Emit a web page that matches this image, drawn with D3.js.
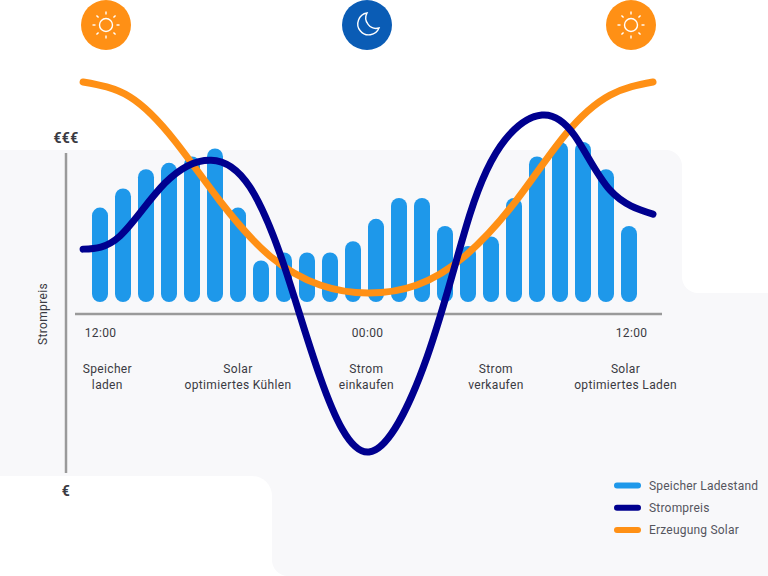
<!DOCTYPE html>
<html>
<head>
<meta charset="utf-8">
<script src="https://cdn.jsdelivr.net/npm/d3@7"></script>
<style>
	html, body { margin: 0; padding: 0; background: #fff; }
	svg { display: block; }
	text { font-family: Roboto, sans-serif; font-size: 12px; fill: #3a3a42; letter-spacing: 0.35px; }
</style>
</head>
<body>
<div id="chart"></div>
<script>
// storage level per slot, 0-100
var speicherLadestand = [59, 71, 83, 87, 91, 96, 59, 26, 31, 31, 31, 38, 52, 65, 65, 47.5, 35, 41, 65, 91, 100, 100, 83, 47.5];

// hours after the first 12:00 tick
var preisStunden = [-0.76, 0.9, 2.92, 4.99, 6.74, 8.31, 9.89, 12.09, 14.73, 16.68, 18.27, 19.95, 21.45, 23.05, 25];
var strompreis = [60.2, 64.1, 79.8, 86.6, 78.6, 54.6, 22.3, 0, 28.2, 70.6, 92.6, 100, 93.8, 77.7, 70.6];

var solarStunden = [-0.76, 1.35, 3.37, 5.39, 7.64, 9.89, 12.05, 14.27, 16.45, 18.73, 21, 23.05, 25];
var erzeugungSolar = [100, 92.9, 72, 43.6, 17.5, 3.8, 0, 3.8, 17.5, 43.1, 74.9, 93.8, 100];

var tickStunden = [0, 12, 24];
var tickLabels = ["12:00", "00:00", "12:00"];

var phasen = [
	{ hour: 0.33, lines: ["Speicher", "laden"] },
	{ hour: 6.2, lines: ["Solar", "optimiertes Kühlen"] },
	{ hour: 11.97, lines: ["Strom", "einkaufen"] },
	{ hour: 17.86, lines: ["Strom", "verkaufen"] },
	{ hour: 23.75, lines: ["Solar", "optimiertes Laden"] }
];

var legendNames = ["Speicher Ladestand", "Strompreis", "Erzeugung Solar"];
var legendColors = ["#1e98ea", "#00008f", "#ff9015"];

var svg = d3.select("#chart")
	.append("svg")
	.attr("width", 768)
	.attr("height", 576);

// background panels
var panelFill = "#f8f8fa";
svg.append("rect").attr("x", -40).attr("y", 150).attr("width", 722).attr("height", 380).attr("rx", 16).style("fill", panelFill);
svg.append("rect").attr("x", -40).attr("y", 476).attr("width", 312).attr("height", 160).attr("rx", 20).style("fill", "#fff");
svg.append("rect").attr("x", 272).attr("y", 270).attr("width", 540).attr("height", 306).attr("rx", 16).style("fill", panelFill);
svg.append("rect").attr("x", 682).attr("y", 100).attr("width", 140).attr("height", 193).attr("rx", 16).style("fill", "#fff");

// scales
var x = d3.scaleLinear().domain([0, 12, 24]).range([100, 367, 631]);
var xBar = d3.scalePoint().domain(d3.range(speicherLadestand.length)).range([100, 629]);
var yBar = d3.scaleLinear().domain([0, 100]).range([302, 142]);
var yPreis = d3.scaleLinear().domain([0, 100]).range([452, 115]);
var ySolar = d3.scaleLinear().domain([0, 100]).range([293, 82]);

// axes
var xAxis = d3.axisBottom(x)
	.tickValues(tickStunden)
	.tickFormat(function(d, i) { return tickLabels[i]; })
	.tickSize(0)
	.tickPadding(14);

var xAxisG = svg.append("g")
	.attr("transform", "translate(0,314)")
	.call(xAxis);
xAxisG.select(".domain").remove();
xAxisG.selectAll("text").style("font-family", "Roboto, sans-serif").style("font-size", "12px");

svg.append("line").attr("x1", 75).attr("x2", 662).attr("y1", 314).attr("y2", 314)
	.style("stroke", "#9a9a9a").style("stroke-width", 2.5);
svg.append("line").attr("x1", 66).attr("x2", 66).attr("y1", 153).attr("y2", 473)
	.style("stroke", "#9a9a9a").style("stroke-width", 2.5);

svg.append("text").attr("x", 66).attr("y", 143).attr("text-anchor", "middle").style("font-size", "14px").style("font-weight", 700).text("€€€");
svg.append("text").attr("x", 66).attr("y", 496).attr("text-anchor", "middle").style("font-size", "14px").style("font-weight", 700).text("€");
svg.append("text").attr("transform", "translate(47,314) rotate(-90)").attr("text-anchor", "middle").text("Strompreis");

// bars
svg.selectAll(".bar")
	.data(speicherLadestand)
	.enter().append("rect")
	.attr("class", "bar")
	.attr("x", function(d, i) { return xBar(i) - 8; })
	.attr("y", function(d) { return yBar(d); })
	.attr("width", 16)
	.attr("height", function(d) { return yBar(0) - yBar(d); })
	.attr("rx", 8)
	.style("fill", legendColors[0]);

// curves
var line = d3.line().curve(d3.curveNatural);

svg.append("path")
	.attr("d", line(solarStunden.map(function(h, i) { return [x(h), ySolar(erzeugungSolar[i])]; })))
	.style("fill", "none").style("stroke", legendColors[2]).style("stroke-width", 7).style("stroke-linecap", "round");

svg.append("path")
	.attr("d", line(preisStunden.map(function(h, i) { return [x(h), yPreis(strompreis[i])]; })))
	.style("fill", "none").style("stroke", legendColors[1]).style("stroke-width", 7).style("stroke-linecap", "round");

// phase captions
phasen.forEach(function(p) {
	var t = svg.append("text").attr("text-anchor", "middle");
	p.lines.forEach(function(s, i) {
		t.append("tspan").attr("x", x(p.hour)).attr("y", 373 + i * 16).text(s);
	});
});

// legend
legendNames.forEach(function(name, i) {
	var ly = 485.5 + i * 22.3;
	svg.append("rect").attr("x", 614).attr("y", ly - 3).attr("width", 27).attr("height", 6).attr("rx", 3).style("fill", legendColors[i]);
	svg.append("text").attr("x", 649).attr("y", ly + 4.2).style("fill", "#55555e").style("letter-spacing", "0.2px").text(name);
});

// sun and moon badges
function sun(cx) {
	var g = svg.append("g").attr("transform", "translate(" + cx + ",25)");
	g.append("circle").attr("r", 25).style("fill", "#ff9015");
	g.append("circle").attr("r", 6.5).style("fill", "none").style("stroke", "#fff").style("stroke-width", 1.4);
	d3.range(8).forEach(function(k) {
		var a = k * Math.PI / 4;
		g.append("line")
			.attr("x1", 10.5 * Math.cos(a)).attr("y1", 10.5 * Math.sin(a))
			.attr("x2", 13.5 * Math.cos(a)).attr("y2", 13.5 * Math.sin(a))
			.style("stroke", "#fff").style("stroke-width", 1.4);
	});
}
sun(106);
sun(631);

var moon = svg.append("g").attr("transform", "translate(367,25)");
moon.append("circle").attr("r", 25).style("fill", "#0a5cb5");
moon.append("path")
	.attr("d", "M 0 -12 A 11 11 0 1 0 12 3 A 10.5 10.5 0 0 1 0 -12 Z")
	.style("fill", "none").style("stroke", "#fff").style("stroke-width", 1.4);
</script>
</body>
</html>
